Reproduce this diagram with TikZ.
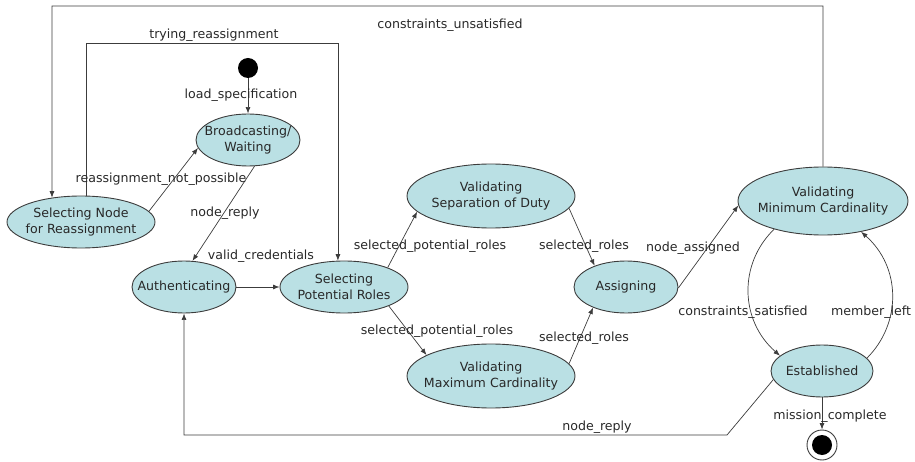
\documentclass[tikz,border=0pt]{standalone}
\usepackage{fontspec}
\setmainfont{DejaVu Sans}
\usetikzlibrary{shapes.geometric,arrows.meta,calc}
\definecolor{statefill}{RGB}{186,224,228}
\definecolor{statedraw}{RGB}{60,60,60}
\definecolor{linecol}{RGB}{60,60,60}
\definecolor{txtcol}{RGB}{40,40,40}
\begin{document}
\begin{tikzpicture}[x=1pt,y=-1pt,
  state/.style={ellipse,draw=statedraw,fill=statefill,line width=0.9pt,inner sep=0pt},
  stext/.style={align=center,inner sep=0pt,text=txtcol,font=\fontsize{12.6}{16.5}\selectfont},
  lbl/.style={anchor=base,inner sep=0pt,text=txtcol,font=\fontsize{12.6}{15}\selectfont},
  conn/.style={draw=linecol,line width=0.7pt},
  arr/.style={conn,-{Latex[length=6.5pt,width=5pt]}}
]
\useasboundingbox (0,0) rectangle (915,462);
% states
\node[circle,fill=black,minimum size=20pt,inner sep=0pt] (start) at (248,68) {};
\node[state,minimum width=104pt,minimum height=52pt,label={[stext]center:{Broadcasting/\\Waiting}}] (bw) at (248,140) {};
\node[state,minimum width=148pt,minimum height=52pt,label={[stext]center:{Selecting Node\\for Reassignment}}] (selnode) at (81,222) {};
\node[state,minimum width=104pt,minimum height=52pt,label={[stext]center:{Authenticating}}] (auth) at (184,287) {};
\node[state,minimum width=128pt,minimum height=52pt,label={[stext]center:{Selecting\\Potential Roles}}] (selpot) at (344,287) {};
\node[state,minimum width=168pt,minimum height=64pt,label={[stext]center:{Validating\\Separation of Duty}}] (sod) at (491,196) {};
\node[state,minimum width=104pt,minimum height=52pt,label={[stext]center:{Assigning}}] (assign) at (626,287) {};
\node[state,minimum width=168pt,minimum height=64pt,label={[stext]center:{Validating\\Maximum Cardinality}}] (maxc) at (491,376) {};
\node[state,minimum width=170pt,minimum height=68pt,label={[stext]center:{Validating\\Minimum Cardinality}}] (minc) at (823,201) {};
\node[state,minimum width=102pt,minimum height=52pt,label={[stext]center:{Established}}] (est) at (822,371) {};
\node[circle,draw=statedraw,line width=0.9pt,fill=white,minimum size=30pt,inner sep=0pt] (end) at (822,445) {};
\node[circle,fill=black,minimum size=20pt,inner sep=0pt] (endin) at (end.center) {};
% helper coordinates
\coordinate (trtop) at (0,43);
\coordinate (cutop) at (0,6);
\coordinate (culeft) at (52,0);
\coordinate (nrbend) at (727,435);
% connectors
\draw[arr] (start) -- (bw.north);
\draw[arr] (selnode.9) -- (bw.189);
\draw[arr] (bw.284) -- (auth.72);
\draw[arr] (selnode.79) -- (selnode.79 |- trtop) -- (selpot.103 |- trtop) -- (selpot.103);
\draw[arr] (minc.north) -- (minc.north |- cutop) -- (culeft |- cutop) -- (selnode.140);
\draw[arr] (auth.east) -- (selpot.west);
\draw[arr] (selpot.24) -- (sod.192);
\draw[arr] (selpot.337) -- (maxc.162);
\draw[arr] (sod.351) -- (assign.146);
\draw[arr] (maxc.9) -- (assign.212);
\draw[arr] (assign.359) -- (minc.183);
\draw[arr] (minc.210) .. controls +(-36,35) and +(-40,-35) .. (est.160);
\draw[arr] (est.16) .. controls +(35,-35) and +(40,35) .. (minc.321);
\draw[arr] (est.south) -- (end.north);
\draw[arr] (est.190) -- (nrbend) -| (auth.south);
% labels
\node[lbl] (l1) at (450,29) {constraints\_unsatisfied};
\node[lbl] (l2) at (214,39) {trying\_reassignment};
\node[lbl] (l3) at (241,99) {load\_specification};
\node[lbl] (l4) at (161,183) {reassignment\_not\_possible};
\node[lbl] (l5) at (225,217) {node\_reply};
\node[lbl] (l6) at (261,259) {valid\_credentials};
\node[lbl] (l7) at (430,250) {selected\_potential\_roles};
\node[lbl] (l8) at (437,334) {selected\_potential\_roles};
\node[lbl] (l9) at (584,250) {selected\_roles};
\node[lbl] (l10) at (693,252) {node\_assigned};
\node[lbl] (l11) at (584,341) {selected\_roles};
\node[lbl] (l12) at (743,315) {constraints\_satisfied};
\node[lbl] (l13) at (871,315) {member\_left};
\node[lbl] (l14) at (830,419) {mission\_complete};
\node[lbl] (l15) at (597,430) {node\_reply};
\end{tikzpicture}
\end{document}
